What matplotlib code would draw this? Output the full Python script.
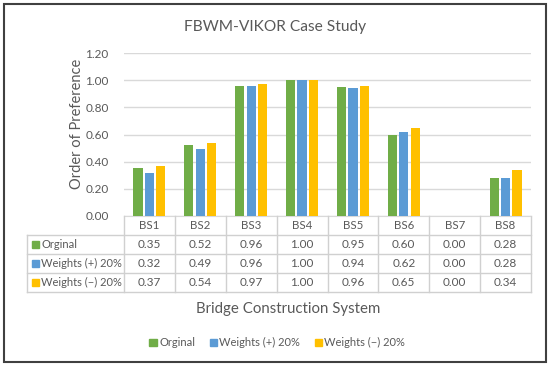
import matplotlib.pyplot as plt
from matplotlib.patches import Rectangle
from matplotlib.lines import Line2D
import numpy as np

plt.rcParams['font.family'] = ['Lato', 'DejaVu Sans']

# Data
systems = ["BS1", "BS2", "BS3", "BS4", "BS5", "BS6", "BS7", "BS8"]
series_names = ["Orginal", "Weights (+) 20%", "Weights (\u2212) 20%"]
orginal = [0.35, 0.52, 0.96, 1.00, 0.95, 0.60, 0.00, 0.28]
weights_plus = [0.32, 0.49, 0.96, 1.00, 0.94, 0.62, 0.00, 0.28]
weights_minus = [0.37, 0.54, 0.97, 1.00, 0.96, 0.65, 0.00, 0.34]
colors = ["#70AD47", "#5B9BD5", "#FFC000"]
yticks = [0.0, 0.2, 0.4, 0.6, 0.8, 1.0, 1.2]

W, H = 550, 366
txt = "#595959"
grid = "#D9D9D9"

fig = plt.figure(figsize=(W / 100, H / 100), dpi=100)

def fx(px):
    return px / W

def fy(py):
    return 1 - py / H

# plot area in pixels
left, right, top, bottom = 124, 531, 53, 216
ax = fig.add_axes([fx(left), fy(bottom), fx(right - left), (bottom - top) / H])

x = np.arange(len(systems))
all_series = [orginal, weights_plus, weights_minus]
bw = 0.18
step = 0.225
for i, vals in enumerate(all_series):
    ax.bar(x + (i - 1) * step, vals, width=bw, color=colors[i], zorder=3)

ax.set_xlim(-0.5, len(systems) - 0.5)
ax.set_ylim(0, 1.2)
ax.set_yticks(yticks)
ax.set_yticklabels(["%.2f" % v for v in yticks], color=txt, fontsize=8.5)
ax.set_xticks([])
ax.tick_params(axis='y', length=0, pad=11)
ax.yaxis.grid(True, color=grid, linewidth=1, zorder=0)
for s in ["top", "right", "left"]:
    ax.spines[s].set_visible(False)
ax.spines["bottom"].set_color(grid)
fig.text(fx(77), fy(124), "Order of Preference", rotation=90, ha='center', va='center',
         color=txt, fontsize=10.5)

# data table below the axes
row_h = 19.0
rows_y = [bottom, bottom + row_h, bottom + 2 * row_h, bottom + 3 * row_h, bottom + 4 * row_h]
tab_left = 27
col_w = (right - left) / len(systems)
lc = "#D0D0D0"

def hline(y, x0, x1):
    fig.add_artist(Line2D([fx(x0), fx(x1)], [fy(y), fy(y)], color=lc, lw=1))

def vline(xp, y0, y1):
    fig.add_artist(Line2D([fx(xp), fx(xp)], [fy(y0), fy(y1)], color=lc, lw=1))

for k, yy in enumerate(rows_y):
    if k == 0:
        continue
    hline(yy, tab_left, right)
vline(tab_left, rows_y[1], rows_y[-1])
for j in range(len(systems) + 1):
    vline(left + j * col_w, rows_y[0], rows_y[-1])

for j, name in enumerate(systems):
    cx = left + (j + 0.5) * col_w
    fig.text(fx(cx), fy((rows_y[0] + rows_y[1]) / 2), name, ha='center', va='center',
             color=txt, fontsize=8.3)
    for i, vals in enumerate(all_series):
        cy = (rows_y[i + 1] + rows_y[i + 2]) / 2
        fig.text(fx(cx), fy(cy), "%.2f" % vals[j], ha='center', va='center',
                 color=txt, fontsize=8.5)

for i, name in enumerate(series_names):
    cy = (rows_y[i + 1] + rows_y[i + 2]) / 2
    fig.add_artist(Rectangle((fx(32), fy(cy + 3.5)), fx(7), 7 / H, color=colors[i]))
    fig.text(fx(41), fy(cy), name, ha='left', va='center', color=txt, fontsize=8)

# titles
fig.text(fx(275), fy(27), "FBWM-VIKOR Case Study", ha='center', va='center',
         color=txt, fontsize=11.2)
fig.text(fx(288), fy(309), "Bridge Construction System", ha='center', va='center',
         color=txt, fontsize=10.8)

# legend
leg_x = [153, 213, 318]
for i, name in enumerate(series_names):
    fig.add_artist(Rectangle((fx(leg_x[i] - 3.5), fy(342 + 3.5)), fx(7), 7 / H, color=colors[i]))
    fig.text(fx(leg_x[i] + 6), fy(342), name, ha='left', va='center', color=txt, fontsize=8)

# outer frame
fig.add_artist(Rectangle((fx(4), fy(362)), fx(542), 358 / H, fill=False,
                         edgecolor="#404040", lw=1.5))

fig.savefig("out.png", dpi=100)
